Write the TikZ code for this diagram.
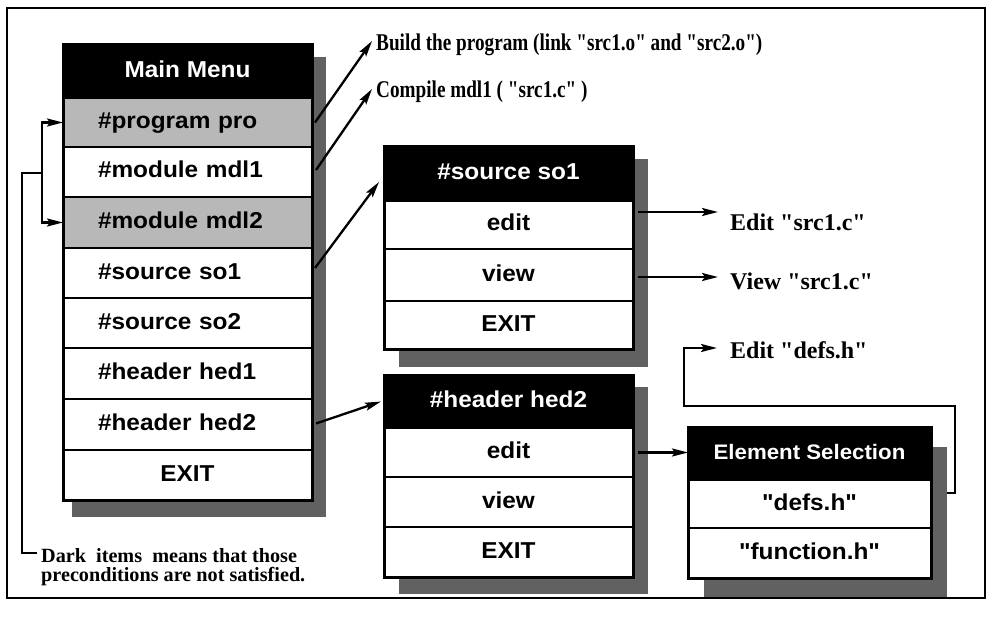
\documentclass[tikz,border=0pt]{standalone}
\usepackage{fontspec}
\setmainfont{Liberation Serif}
\newfontfamily\sanf[FakeStretch=1.06]{Liberation Sans}
\newfontfamily\condser[FakeStretch=0.8]{Liberation Serif}
\newfontfamily\plainser{Liberation Serif}
\usetikzlibrary{arrows.meta}
\pgfdeclarelayer{bg}
\pgfsetlayers{bg,main}
\begin{document}
\begin{tikzpicture}[x=1pt,y=-1pt,
  box/.style={draw=black, line width=2pt, inner sep=0pt, outer sep=0pt,
    font=\sanf\bfseries\fontsize{23}{26}\selectfont,
    text height=16.5pt, text depth=4.5pt, align=center},
  dark/.style={box, fill=black, text=white},
  lite/.style={box, fill=white},
  dots/.style={box, fill=black!28},
  lefttext/.style={text width=179pt, align=left, inner xsep=35pt},
  mw/.style={minimum width=249pt},
  shadowfill/.style={fill=black!62},
  arr/.style={line width=2.3pt, -{Stealth[length=16pt,width=8pt,inset=3pt]}},
  conn/.style={line width=2pt},
  lbl/.style={anchor=west, inner sep=0pt, font=\plainser\bfseries\fontsize{24}{24}\selectfont},
  clbl/.style={anchor=west, inner sep=0pt, font=\condser\bfseries\fontsize{24}{24}\selectfont}
]
\begin{pgfonlayer}{bg}
\fill[white] (0,0) rectangle (992,620);
\end{pgfonlayer}
\useasboundingbox (0,0) rectangle (992,620);
% outer frame
\draw[line width=2pt] (7,8) rectangle (985,598);

% ---------- Main Menu ----------
\node[dark, mw, minimum height=53pt] (mm) at (187.5,71.5) {Main Menu};
\node[dots, lefttext, mw, minimum height=49pt] (pro) at (187.5,122.5) {\#program pro};
\node[lite, lefttext, mw, minimum height=50pt] (mdl1) at (187.5,172) {\#module mdl1};
\node[dots, lefttext, mw, minimum height=51pt] (mdl2) at (187.5,222.5) {\#module mdl2};
\node[lite, lefttext, mw, minimum height=50pt] (mso1) at (187.5,273) {\#source so1};
\node[lite, lefttext, mw, minimum height=50pt] (mso2) at (187.5,323) {\#source so2};
\node[lite, lefttext, mw, minimum height=51pt] (mhed1) at (187.5,373.5) {\#header hed1};
\node[lite, lefttext, mw, minimum height=51pt] (mhed2) at (187.5,424.5) {\#header hed2};
\node[lite, mw, minimum height=50pt] (mexit) at (187.5,475) {EXIT};
\draw[line width=3pt] (mm.north west) rectangle (mexit.south east);

% ---------- #source so1 ----------
\node[dark, mw, minimum height=54pt] (s1t) at (508.5,174) {\#source so1};
\node[lite, mw, minimum height=48pt] (s1e) at (508.5,225) {edit};
\node[lite, mw, minimum height=52pt] (s1v) at (508.5,275) {view};
\node[lite, mw, minimum height=48pt] (s1x) at (508.5,325) {EXIT};
\draw[line width=3pt] (s1t.north west) rectangle (s1x.south east);

% ---------- #header hed2 ----------
\node[dark, mw, minimum height=53pt] (h2t) at (508.5,401.5) {\#header hed2};
\node[lite, mw, minimum height=49pt] (h2e) at (508.5,452.5) {edit};
\node[lite, mw, minimum height=50pt] (h2v) at (508.5,502) {view};
\node[lite, mw, minimum height=50pt] (h2x) at (508.5,552) {EXIT};
\draw[line width=3pt] (h2t.north west) rectangle (h2x.south east);

% ---------- Element Selection ----------
\node[dark, minimum width=243pt, minimum height=53pt,
      font=\sanf\bfseries\fontsize{21}{24}\selectfont] (es) at (809.5,453.5) {Element Selection};
\node[lite, minimum width=243pt, minimum height=48pt] (esd) at (809.5,504) {"defs.h"};
\node[lite, minimum width=243pt, minimum height=50pt] (esf) at (809.5,553) {"function.h"};
\draw[line width=3pt] (es.north west) rectangle (esf.south east);

% ---------- shadows ----------
\begin{pgfonlayer}{bg}
\fill[shadowfill] ([xshift=9pt,yshift=-12pt]mm.north west) rectangle ([xshift=14pt,yshift=-17pt]mexit.south east);
\fill[shadowfill] ([xshift=15pt,yshift=-12pt]s1t.north west) rectangle ([xshift=15pt,yshift=-18pt]s1x.south east);
\fill[shadowfill] ([xshift=15pt,yshift=-12pt]h2t.north west) rectangle ([xshift=15pt,yshift=-17pt]h2x.south east);
\fill[shadowfill] ([xshift=16pt,yshift=-20pt]es.north west) rectangle ([xshift=16pt,yshift=-19pt]esf.south east);
\end{pgfonlayer}

% ---------- labels ----------
\node[clbl] (build) at (376,45) {Build the program (link "src1.o" and "src2.o")};
\node[clbl] (compile) at (376,92) {Compile mdl1 ( "src1.c" )};
\node[lbl] (eds) at (730,222) {Edit "src1.c"};
\node[lbl] (vws) at (730,281) {View "src1.c"};
\node[lbl] (edh) at (730,350) {Edit "defs.h"};
\node[anchor=north west, inner sep=0pt, align=left,
      font=\plainser\bfseries\fontsize{20.2}{19.5}\selectfont] (note) at (41,548)
  {Dark\ \ items\ \ means that those\\preconditions are not satisfied.};

% ---------- connectors ----------
\draw[arr] ([xshift=3pt]pro.east) -- ([xshift=-4pt,yshift=4pt]build.west);
\draw[arr] ([xshift=4pt,yshift=2pt]mdl1.east) -- ([xshift=-4pt,yshift=3pt]compile.west);
\draw[arr] ([xshift=3pt,yshift=5pt]mso1.east) -- ([xshift=-5pt,yshift=-8pt]s1t.west);
\draw[arr] ([xshift=4pt,yshift=1pt]mhed2.east) -- ([xshift=-3pt]h2t.west);
\draw[arr] ([xshift=5pt,yshift=13pt]s1e.east) -- ([xshift=-12pt,yshift=10pt]eds.west);
\draw[arr] ([xshift=5pt,yshift=-2pt]s1v.east) -- ([xshift=-12pt,yshift=4pt]vws.west);
\draw[arr] ([xshift=5pt]h2e.east) -- (h2e.east -| es.west);

\coordinate (l1) at (955,406);
\coordinate (l2) at (684,406);
\draw[arr] ([xshift=16pt,yshift=11pt]esd.east) -| (l1) -- (l2) |- ([xshift=-13pt,yshift=2pt]edh.west);

% precondition bracket
\coordinate (stem) at (42,173);
\coordinate (stemL) at (22,173);
\coordinate (ntend) at (37,553);
\draw[arr] (stem) |- (pro.west);
\draw[arr] (stem) |- (mdl2.west);
\draw[conn] (stem) -- (stemL) |- (ntend);
\end{tikzpicture}
\end{document}
